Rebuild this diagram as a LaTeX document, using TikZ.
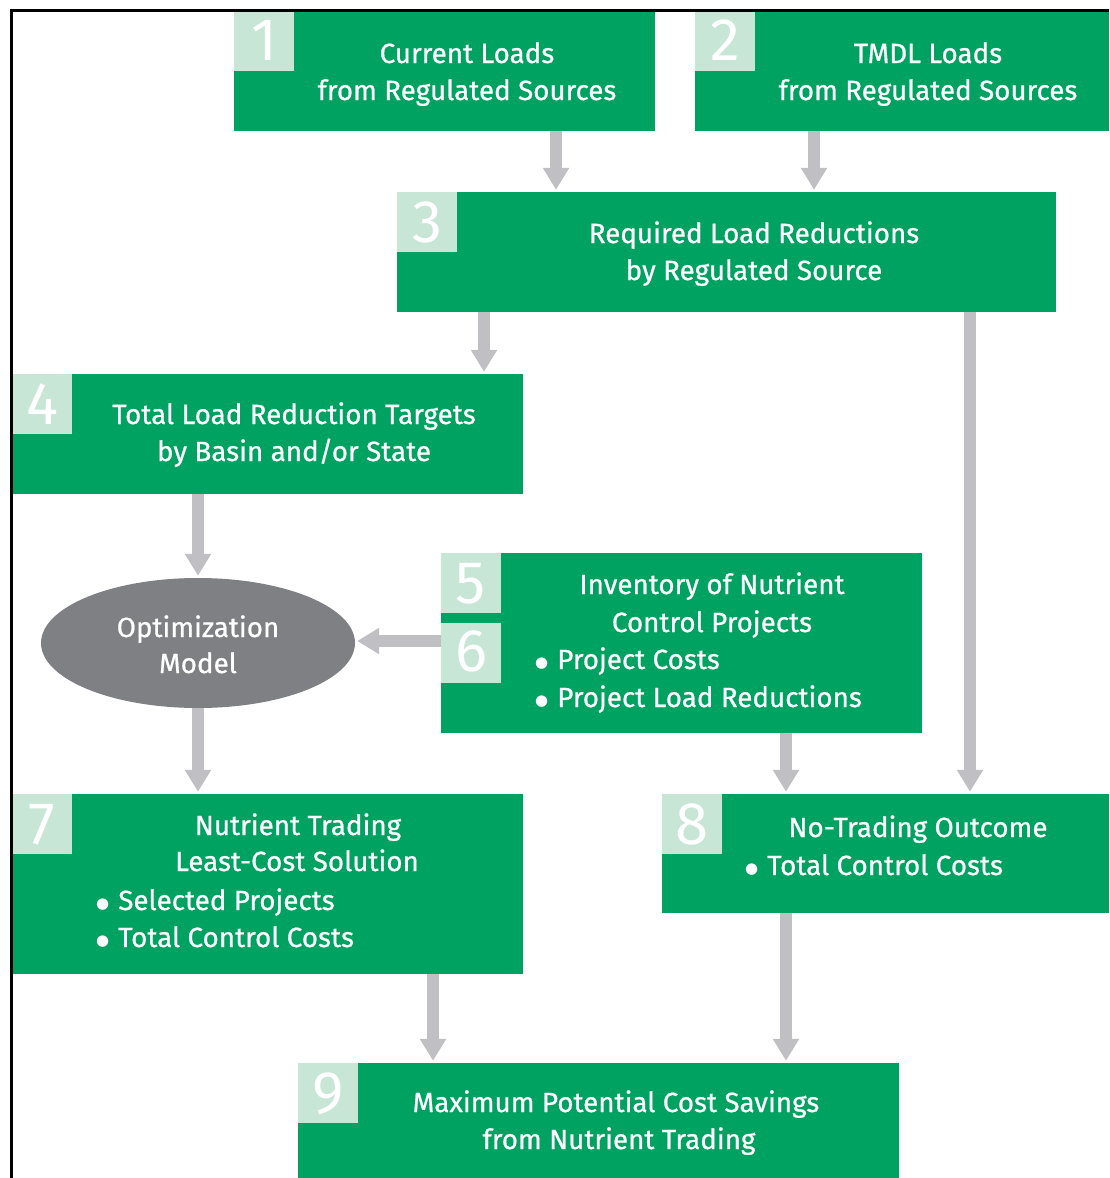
\documentclass[tikz,border=0pt]{standalone}
\usepackage{fontspec}
\setmainfont{Fira Sans}
\newfontfamily\boxfont{Fira Sans}[FakeBold=0.7]
\newfontfamily\symfont{DejaVu Sans}
\usetikzlibrary{arrows.meta,shapes.geometric}
\definecolor{boxgreen}{HTML}{00A261}
\definecolor{numgreen}{HTML}{C8E6D5}
\definecolor{arrgray}{HTML}{C0C0C4}
\definecolor{ellgray}{HTML}{7F8083}
\newcommand{\bul}{{\symfont\fontsize{15}{15}\selectfont\raisebox{1.5pt}{●}}\hspace{9pt}}
\tikzset{
  gbox/.style={fill=boxgreen, draw=none},
  nbox/.style={fill=numgreen, draw=none},
  num/.style={text=white, inner sep=0pt, anchor=base, font=\fontsize{60}{60}\selectfont},
  txt/.style={text=white, inner sep=0pt, anchor=base, font=\boxfont\fontsize{27.8}{30}\selectfont},
  ltxt/.style={txt, anchor=base west},
  arr/.style={draw=arrgray, line width=12pt, -{Triangle[width=25pt,length=22pt]}, shorten >=2pt},
}
\begin{document}
\begin{tikzpicture}[x=1pt,y=-1pt]
\useasboundingbox (0,0) rectangle (1109,1178);
% boxes
\node[inner sep=0pt] (b1) at (444.5,70.5) [minimum width=421pt, minimum height=121pt] {};
\node[inner sep=0pt] (b2) at (902,70.5) [minimum width=414pt, minimum height=121pt] {};
\node[inner sep=0pt] (b3) at (726.5,252) [minimum width=659pt, minimum height=120pt] {};
\node[inner sep=0pt] (b4) at (267,434) [minimum width=512pt, minimum height=120pt] {};
\node[inner sep=0pt] (b56) at (681.5,643) [minimum width=481pt, minimum height=180pt] {};
\node[inner sep=0pt] (b7) at (267,884) [minimum width=512pt, minimum height=180pt] {};
\node[inner sep=0pt] (b8) at (885.5,853.5) [minimum width=447pt, minimum height=119pt] {};
\node[inner sep=0pt] (b9) at (598.5,1120.5) [minimum width=601pt, minimum height=115pt] {};
\foreach \n in {b1,b2,b3,b4,b56,b7,b8,b9}{\fill[gbox] (\n.north west) rectangle (\n.south east);}
% number squares
\fill[nbox] (234,10) rectangle (294,71);
\fill[nbox] (695,10) rectangle (755,71);
\fill[nbox] (397,192) rectangle (457,252);
\fill[nbox] (12,374) rectangle (72,434);
\fill[nbox] (441,553) rectangle (501,613);
\fill[nbox] (441,623) rectangle (501,683);
\fill[nbox] (12,794) rectangle (72,854);
\fill[nbox] (662,794) rectangle (722,854);
\fill[nbox] (298,1063) rectangle (358,1123);
\node[num] (n1) at (264,60) {1};
\node[num] (n2) at (725,60) {2};
\node[num] (n3) at (427,242) {3};
\node[num] (n4) at (42,424) {4};
\node[num] (n5) at (471,603) {5};
\node[num] (n6) at (471,671) {6};
\node[num] (n7) at (42,844) {7};
\node[num] (n8) at (692,844) {8};
\node[num] (n9) at (328,1113) {9};
% ellipse
\node[ellipse, fill=ellgray, minimum width=314pt, minimum height=130pt, inner sep=0pt] (opt) at (198,643) {};
% texts
\node[txt] (t1a) at (467,63) {Current Loads};
\node[txt] (t1b) at (467,100) {from Regulated Sources};
\node[txt] (t2a) at (928,63) {TMDL Loads};
\node[txt] (t2b) at (928,100) {from Regulated Sources};
\node[txt] (t3a) at (754,243) {Required Load Reductions};
\node[txt] (t3b) at (754,280) {by Regulated Source};
\node[txt] (t4a) at (294,424) {Total Load Reduction Targets};
\node[txt] (t4b) at (294,461) {by Basin and/or State};
\node[txt] (t5a) at (712,594) {Inventory of Nutrient};
\node[txt] (t5b) at (712,632) {Control Projects};
\node[ltxt] (t5c) at (535,669) {\bul Project Costs};
\node[ltxt] (t5d) at (535,707) {\bul Project Load Reductions};
\node[txt] (toa) at (198,637) {Optimization};
\node[txt] (tob) at (198,673) {Model};
\node[txt] (t7a) at (298,835) {Nutrient Trading};
\node[txt] (t7b) at (297,871) {Least-Cost Solution};
\node[ltxt] (t7c) at (96,910) {\bul Selected Projects};
\node[ltxt] (t7d) at (96,947) {\bul Total Control Costs};
\node[txt] (t8a) at (918,837) {No-Trading Outcome};
\node[ltxt] (t8b) at (745,875) {\bul Total Control Costs};
\node[txt] (t9a) at (616,1112) {Maximum Potential Cost Savings};
\node[txt] (t9b) at (619,1149) {from Nutrient Trading};
% arrows
\draw[arr] ([xshift=111.5pt]b1.south) -- ([xshift=-170.5pt]b3.north);
\draw[arr] ([xshift=-88pt]b2.south) -- ([xshift=87.5pt]b3.north);
\draw[arr] ([xshift=-242.5pt]b3.south) -- ([xshift=217pt]b4.north);
\draw[arr] ([xshift=243.5pt]b3.south) -- ([xshift=84.5pt]b8.north);
\draw[arr] ([xshift=-69pt]b4.south) -- (opt.north);
\draw[arr] ([yshift=2pt]b56.west) -- ([yshift=2pt]opt.east);
\draw[arr] (opt.south) -- ([xshift=-69pt]b7.north);
\draw[arr] ([xshift=104.5pt]b56.south) -- ([xshift=-99.5pt]b8.north);
\draw[arr] ([xshift=166pt]b7.south) -- ([xshift=-165.5pt]b9.north);
\draw[arr] ([xshift=-99.5pt]b8.south) -- ([xshift=187.5pt]b9.north);
% frame
\draw[line width=3pt] (11.5,1178) -- (11.5,10.5) -- (1109,10.5);
\end{tikzpicture}
\end{document}
